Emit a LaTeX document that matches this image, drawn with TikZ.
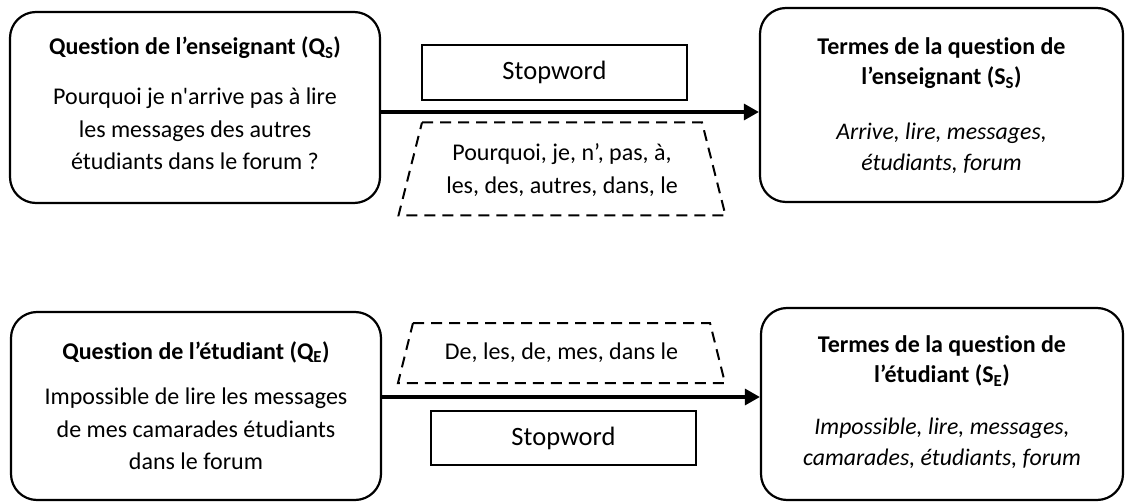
\documentclass[tikz,border=0pt]{standalone}
\usepackage{fontspec}
\setmainfont{Carlito}[Ligatures=NoCommon]
\usetikzlibrary{arrows.meta}
\newcommand\bodyfont{\fontsize{24}{32.5}\selectfont}
\newcommand\headfont{\fontsize{24}{30.5}\selectfont\bfseries}
\newcommand\termfont{\fontsize{23.8}{31}\selectfont\itshape}
\newcommand\swfont{\fontsize{26.5}{32}\selectfont}
\begin{document}
\begin{tikzpicture}[x=1pt,y=-1pt,
  qbox/.style={draw, line width=2.2pt, rounded corners=26pt, inner sep=0pt},
  swbox/.style={draw, line width=1.2pt, inner sep=0pt, font=\swfont},
  droptext/.style={align=center, font=\bodyfont, inner sep=0pt},
  dropline/.style={draw, dash pattern=on 11pt off 7pt, line width=2pt},
  head/.style={align=center, font=\headfont, inner sep=0pt},
  body/.style={align=center, font=\bodyfont, inner sep=0pt},
  terms/.style={align=center, font=\termfont, inner sep=0pt},
  flow/.style={line width=3.2pt, -{Triangle[length=15pt,width=16pt]}}
]
\useasboundingbox (0,0) rectangle (1126,502);

% upper row: teacher question
\node[qbox, minimum width=370pt, minimum height=191pt] (qs) at (195,107.5) {};
\node[head] (qsh) at (195,48) {Question de l’enseignant (Q\textsubscript{S})};
\node[body] (qsb) at (195,129) {Pourquoi je n\textquotesingle arrive pas à lire\\les messages des autres\\étudiants dans le forum ?};

\node[qbox, minimum width=363pt, minimum height=194pt] (ss) at (941.5,105) {};
\node[head] (ssh) at (941.5,63) {Termes de la question de\\l’enseignant (S\textsubscript{S})};
\node[terms] (ssb) at (941.5,148) {Arrive, lire, messages,\\étudiants, forum};

\coordinate (y1) at (570,112);
\draw[flow] (qs.east |- y1) -- (ss.west |- y1);

\node[swbox, minimum width=265pt, minimum height=55pt] (sw1) at (554.5,72.5) {Stopword};
\node[droptext] (st1) at (562,170) {Pourquoi, je, n’, pas, à,\\les, des, autres, dans, le};
\draw[dropline] ([shift={(-140,-47.5)}]st1.center) -- ([shift={(140,-47.5)}]st1.center)
  -- ([shift={(163.5,45.5)}]st1.center) -- ([shift={(-163.5,45.5)}]st1.center) -- cycle;

% lower row: student question
\node[qbox, minimum width=370pt, minimum height=188pt] (qe) at (196,406) {};
\node[head] (qeh) at (196,352) {Question de l’étudiant (Q\textsubscript{E})};
\node[body] (qeb) at (196,429) {Impossible de lire les messages\\de mes camarades étudiants\\dans le forum};

\node[qbox, minimum width=362pt, minimum height=192pt] (se) at (942,404) {};
\node[head] (seh) at (942,361) {Termes de la question de\\l’étudiant (S\textsubscript{E})};
\node[terms] (seb) at (942,443) {Impossible, lire, messages,\\camarades, étudiants, forum};

\coordinate (y2) at (570,397);
\draw[flow] (qe.east |- y2) -- (se.west |- y2);

\node[droptext] (st2) at (561.5,353) {De, les, de, mes, dans le};
\draw[dropline] ([shift={(-148.5,-30)}]st2.center) -- ([shift={(148.5,-30)}]st2.center)
  -- ([shift={(163.5,30)}]st2.center) -- ([shift={(-163.5,30)}]st2.center) -- cycle;
\node[swbox, minimum width=265pt, minimum height=54pt] (sw2) at (563.5,438) {Stopword};
\end{tikzpicture}
\end{document}
